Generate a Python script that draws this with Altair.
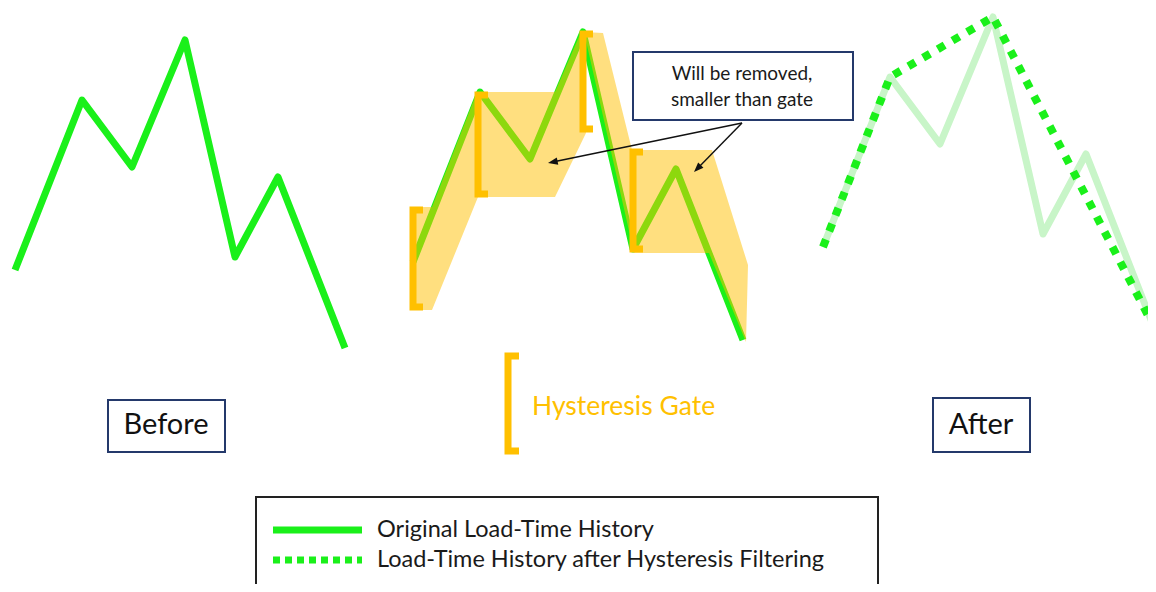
import altair as alt
import pandas as pd
import numpy as np

# ---------------- data ----------------
# one load-time history (time units, load relative to first point; load up = positive)
TIME = [15, 82, 132, 185, 235, 278, 345]
LOAD = [0, 170, 103, 230, 13, 93, -78]
KEPT = [0, 1, 3, 6]          # reversal points surviving the hysteresis filter

PANELS = ["before", "gate", "after"]
PANEL_SHIFT_T = [0, 398, 808]
PANEL_BASE_Y = [270, 262, 247]

# shaded hysteresis bands (middle panel)
BAND_NAMES = ["band1", "band2"]
BAND_X = [
    [410, 432, 477, 555, 581, 586, 555, 478, 432, 410],
    [584, 603, 632, 712, 748, 746, 709, 634],
]
BAND_Y = [
    [207, 207, 92, 92, 32, 133, 197, 197, 310, 310],
    [32, 33, 150, 150, 265, 342, 253, 253],
]

# hysteresis gate brackets: stem x, top, bottom, serif length
BRACKET_X = [413, 478, 583, 633, 508]
BRACKET_TOP = [210, 95, 34, 152, 356]
BRACKET_BOTTOM = [307, 194, 129, 249, 451]
BRACKET_SERIF = [10, 10, 10, 10, 11]

# callout arrows: start and tip
ARROW_X0 = [742, 742]
ARROW_Y0 = [123, 123]
ARROW_X1 = [548, 694]
ARROW_Y1 = [163, 172]

# labelled boxes
BOX_NAMES = ["Before", "After", "callout"]
BOX_X = [108, 933, 633]
BOX_X2 = [225, 1030, 853]
BOX_Y = [400, 398, 52]
BOX_Y2 = [452, 452, 120]

LABELS = ["Before", "After"]
LABEL_X = [166, 981]
LABEL_Y = [425, 425]

CALLOUT_LINES = ["Will be removed,", "smaller than gate"]
CALLOUT_X = [742, 742]
CALLOUT_Y = [74, 100]

LEGEND_LABELS = ["Original Load-Time History", "Load-Time History after Hysteresis Filtering"]
LEGEND_SAMPLE_X = [273, 362]
LEGEND_Y = [530, 560]
LEGEND_TEXT_X = 377
LEGEND_BOX = [256, 878, 497, 620]

GATE_TEXT = "Hysteresis Gate"
GATE_TEXT_POS = [532, 407]

GREEN = "#1AF01A"
PALE = "#C8F5C8"
ORANGE = "#FFC000"
NAVY = "#24396B"
FONT = "Lato"

# ---------------- frames ----------------
def panel_frame(i, idx=None):
    idx = list(range(len(TIME))) if idx is None else idx
    return pd.DataFrame({
        "x": [TIME[k] + PANEL_SHIFT_T[i] for k in idx],
        "y": [PANEL_BASE_Y[i] - LOAD[k] for k in idx],
        "o": list(range(len(idx))),
    })

before_df = panel_frame(0)
gate_df = panel_frame(1)
after_df = panel_frame(2)
filtered_df = panel_frame(2, KEPT)

band_rows = []
for name, xs, ys in zip(BAND_NAMES, BAND_X, BAND_Y):
    for k, (a, b) in enumerate(zip(xs, ys)):
        band_rows.append({"band": name, "x": a, "y": b, "o": k})
band_df = pd.DataFrame(band_rows)

br_rows = []
for j, (bx, bt, bb, bs) in enumerate(zip(BRACKET_X, BRACKET_TOP, BRACKET_BOTTOM, BRACKET_SERIF)):
    for k, (a, b) in enumerate([(bx + bs, bt), (bx, bt), (bx, bb), (bx + bs, bb)]):
        br_rows.append({"br": j, "x": a, "y": b, "o": k})
br_df = pd.DataFrame(br_rows)

ar_rows, head_rows = [], []
for j in range(len(ARROW_X0)):
    x0, y0, x1, y1 = ARROW_X0[j], ARROW_Y0[j], ARROW_X1[j], ARROW_Y1[j]
    dx, dy = x1 - x0, y1 - y0
    L = np.hypot(dx, dy)
    ux, uy = dx / L, dy / L
    ar_rows.append({"a": j, "x": x0, "y": y0, "o": 0})
    ar_rows.append({"a": j, "x": x1 - 6 * ux, "y": y1 - 6 * uy, "o": 1})
    ang = float(np.degrees(np.arctan2(dx, -dy))) % 360
    head_rows.append({"x": x1, "y": y1, "ang": ang})
ar_df = pd.DataFrame(ar_rows)
head_df = pd.DataFrame(head_rows)

box_df = pd.DataFrame({"name": BOX_NAMES, "x": BOX_X, "x2": BOX_X2, "y": BOX_Y, "y2": BOX_Y2})
label_df = pd.DataFrame({"t": LABELS, "x": LABEL_X, "y": LABEL_Y})
callout_df = pd.DataFrame({"t": CALLOUT_LINES, "x": CALLOUT_X, "y": CALLOUT_Y})
gate_text_df = pd.DataFrame({"t": [GATE_TEXT], "x": [GATE_TEXT_POS[0]], "y": [GATE_TEXT_POS[1]]})

leg_box_df = pd.DataFrame({"x": [LEGEND_BOX[0]], "x2": [LEGEND_BOX[1]], "y": [LEGEND_BOX[2]], "y2": [LEGEND_BOX[3]]})
leg_line_df = pd.DataFrame({"x": [LEGEND_SAMPLE_X[0]] * 2, "x2": [LEGEND_SAMPLE_X[1]] * 2,
                            "y": LEGEND_Y, "kind": ["solid", "dotted"]})
leg_text_df = pd.DataFrame({"t": LEGEND_LABELS, "x": [LEGEND_TEXT_X] * 2, "y": LEGEND_Y})

# ---------------- encodings ----------------
X = alt.X("x:Q", scale=alt.Scale(domain=[8, 1148], nice=False, zero=False), axis=None)
Y = alt.Y("y:Q", scale=alt.Scale(domain=[8, 584], nice=False, zero=False, reverse=True), axis=None)
O = alt.Order("o:Q")

before = alt.Chart(before_df).mark_line(color=GREEN, strokeWidth=7, strokeJoin="round").encode(X, Y, O)
gate_line = alt.Chart(gate_df).mark_line(color=GREEN, strokeWidth=7, strokeJoin="round").encode(X, Y, O)
bands = alt.Chart(band_df).mark_line(
    fill=ORANGE, fillOpacity=0.5, strokeOpacity=0, strokeWidth=0, interpolate="linear-closed"
).encode(X, Y, O, detail="band:N")
brackets = alt.Chart(br_df).mark_line(
    color=ORANGE, strokeWidth=7, strokeJoin="miter", strokeCap="butt"
).encode(X, Y, O, detail="br:N")
after_faded = alt.Chart(after_df).mark_line(color=PALE, strokeWidth=7, strokeJoin="round").encode(X, Y, O)
after_dotted = alt.Chart(filtered_df).mark_line(
    color=GREEN, strokeWidth=8, strokeDash=[8, 9], strokeCap="butt"
).encode(X, Y, O)

arrows = alt.Chart(ar_df).mark_line(color="#111111", strokeWidth=1.4).encode(X, Y, O, detail="a:N")
heads = alt.Chart(head_df).mark_point(
    shape="M0,0L0.38,1L-0.38,1Z", filled=True, color="#111111", opacity=1, size=380
).encode(X, Y, angle=alt.Angle("ang:Q", scale=None))

boxes = alt.Chart(box_df).mark_rect(fill="white", stroke=NAVY, strokeWidth=2).encode(
    X, Y, x2="x2:Q", y2="y2:Q")
labels = alt.Chart(label_df).mark_text(font=FONT, fontSize=29, color="#111111", align="center",
                                       baseline="middle").encode(X, Y, text="t:N")
callout = alt.Chart(callout_df).mark_text(font=FONT, fontSize=19, color="#1a1a1a", align="center",
                                          baseline="middle").encode(X, Y, text="t:N")
gate_text = alt.Chart(gate_text_df).mark_text(font=FONT, fontSize=26.5, color=ORANGE, align="left",
                                              baseline="middle").encode(X, Y, text="t:N")

leg_box = alt.Chart(leg_box_df).mark_rect(fill="white", stroke="#222222", strokeWidth=2).encode(
    X, Y, x2="x2:Q", y2="y2:Q")
leg_solid = alt.Chart(leg_line_df[leg_line_df.kind == "solid"]).mark_rule(
    color=GREEN, strokeWidth=7).encode(X, Y, x2="x2:Q")
leg_dot = alt.Chart(leg_line_df[leg_line_df.kind == "dotted"]).mark_rule(
    color=GREEN, strokeWidth=7, strokeDash=[7, 5]).encode(X, Y, x2="x2:Q")
leg_text = alt.Chart(leg_text_df).mark_text(font=FONT, fontSize=23.5, color="#1a1a1a", align="left",
                                            baseline="middle").encode(X, Y, text="t:N")

chart = alt.layer(
    leg_box, leg_solid, leg_dot, leg_text,
    boxes, labels, callout,
    before, gate_line, bands, brackets, gate_text,
    after_faded, after_dotted,
    arrows, heads,
).properties(width=1140, height=576, padding=0, autosize="none").configure_view(stroke=None)

chart.save("out.html", embed_options={"renderer": "svg", "actions": False})
